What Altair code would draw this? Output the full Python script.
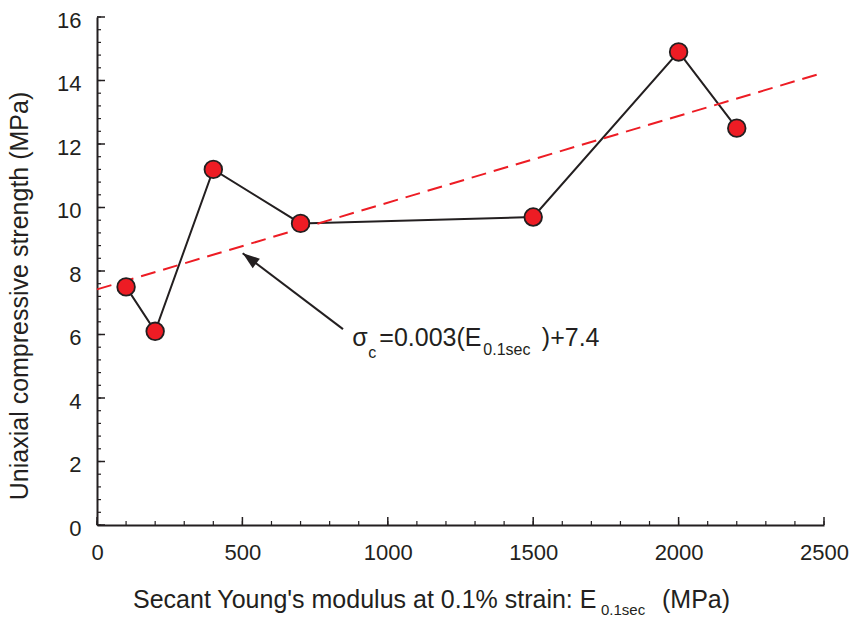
import altair as alt
import pandas as pd

# ---- data ----
modulus = [100, 200, 400, 700, 1500, 2000, 2200]          # E_0.1sec (MPa)
strength = [7.5, 6.1, 11.2, 9.5, 9.7, 14.9, 12.5]          # UCS (MPa)
fit_x = [0, 2500]
fit_y = [7.42, 14.25]
x_major = [0, 500, 1000, 1500, 2000, 2500]
x_minor = [0, 100, 200, 300, 400, 500, 600, 700, 800, 900, 1000, 1100, 1200,
           1300, 1400, 1500, 1600, 1700, 1800, 1900, 2000, 2100, 2200, 2300,
           2400, 2500]
y_major = [0, 2, 4, 6, 8, 10, 12, 14, 16]
y_minor = [0, 0.4, 0.8, 1.2, 1.6, 2, 2.4, 2.8, 3.2, 3.6, 4, 4.4, 4.8, 5.2,
           5.6, 6, 6.4, 6.8, 7.2, 7.6, 8, 8.4, 8.8, 9.2, 9.6, 10, 10.4, 10.8,
           11.2, 11.6, 12, 12.4, 12.8, 13.2, 13.6, 14, 14.4, 14.8, 15.2, 15.6, 16]
arrow_x = [846, 501]       # tail, tip
arrow_y = [6.17, 8.56]
note_x = [878]
note_y = [5.64]

W, H = 727, 508
FONT = "Liberation Sans"
INK = "#231F20"
RED = "#ED1C24"

xs = alt.Scale(domain=[0, 2500], nice=False, zero=False)
ys = alt.Scale(domain=[0, 16], nice=False, zero=False)

x_axis = alt.Axis(values=x_major, format="d", labelFont=FONT, labelFontSize=22,
                  labelColor=INK, ticks=False, tickSize=0, labelPadding=17,
                  domainColor=INK, domainWidth=2, grid=False, title=None,
                  labelFlush=False)
y_axis = alt.Axis(values=y_major, format="d", labelFont=FONT, labelFontSize=22,
                  labelColor=INK, ticks=False, tickSize=0, labelPadding=16,
                  labelOffset=3, domainColor=INK, domainWidth=2, grid=False,
                  title=None)

X = alt.X("x:Q", scale=xs, axis=x_axis)
Y = alt.Y("y:Q", scale=ys, axis=y_axis)

pts = pd.DataFrame({"x": modulus, "y": strength})
fit = pd.DataFrame({"x": fit_x, "y": fit_y})
arr = pd.DataFrame({"x": arrow_x, "y": arrow_y})
tip = pd.DataFrame({"x": [arrow_x[1]], "y": [arrow_y[1]]})
note = pd.DataFrame({"x": note_x, "y": note_y})
one = pd.DataFrame({"a": [0]})

# tick marks (pointing inward)
xt_major = alt.Chart(pd.DataFrame({"x": x_major})).mark_rule(color=INK, strokeWidth=1.5).encode(
    x=X, y=alt.value(H), y2=alt.value(H - 8))
xt_minor = alt.Chart(pd.DataFrame({"x": x_minor})).mark_rule(color=INK, strokeWidth=1.2).encode(
    x=X, y=alt.value(H), y2=alt.value(H - 4))
yt_major = alt.Chart(pd.DataFrame({"y": y_major})).mark_rule(color=INK, strokeWidth=1.5).encode(
    y=Y, x=alt.value(0), x2=alt.value(8))
yt_minor = alt.Chart(pd.DataFrame({"y": y_minor})).mark_rule(color=INK, strokeWidth=1.2).encode(
    y=Y, x=alt.value(0), x2=alt.value(4))

conn = alt.Chart(pts).mark_line(color=INK, strokeWidth=2).encode(x=X, y=Y)
fitline = alt.Chart(fit).mark_line(color=RED, strokeWidth=2, strokeDash=[15, 8]).encode(x=X, y=Y)
dots = alt.Chart(pts).mark_circle(size=310, color=RED, stroke=INK, strokeWidth=1.8,
                                  opacity=1).encode(x=X, y=Y)

arrow_line = alt.Chart(arr).mark_line(color=INK, strokeWidth=2).encode(x=X, y=Y)
arrow_head = alt.Chart(tip).mark_point(shape="M0,0L-0.35,1L0.35,1Z", size=1156, angle=307,
                                       filled=True, color=INK, opacity=1,
                                       strokeWidth=0).encode(x=X, y=Y)


def note_text(txt, size, dx, dy):
    return alt.Chart(note).mark_text(text=txt, font=FONT, fontSize=size, color=INK,
                                     align="left", baseline="alphabetic",
                                     dx=dx, dy=dy).encode(x=X, y=Y)


annot = (note_text("σ", 25, 0, 0) + note_text("c", 16, 16, 12) +
         note_text("=0.003(E", 25, 27, 0) + note_text("0.1sec", 16, 131, 9) +
         note_text(")+7.4", 25, 189.5, 0))


def title_text(txt, size, x, y, angle=0, align="left"):
    return alt.Chart(one).mark_text(text=txt, font=FONT, fontSize=size, color=INK,
                                    align=align, baseline="alphabetic",
                                    angle=angle).encode(x=alt.value(x), y=alt.value(y))


titles = (title_text("Secant Young's modulus at 0.1% strain: E", 25, 36, 591) +
          title_text("0.1sec", 15, 504, 598) +
          title_text("(MPa)", 25, 565, 591) +
          title_text("Uniaxial compressive strength (MPa)", 25, -69, 279,
                     angle=270, align="center"))

chart = alt.layer(
    xt_minor, xt_major, yt_minor, yt_major,
    conn, fitline, dots, arrow_line, arrow_head, annot, titles
).properties(
    width=W, height=H,
    autosize=alt.AutoSizeParams(type="none"),
    padding={"left": 97, "top": 17, "right": 25, "bottom": 97},
    background="white",
).configure_view(stroke=None)

chart.save("out.html", embed_options={"renderer": "svg", "actions": False})
